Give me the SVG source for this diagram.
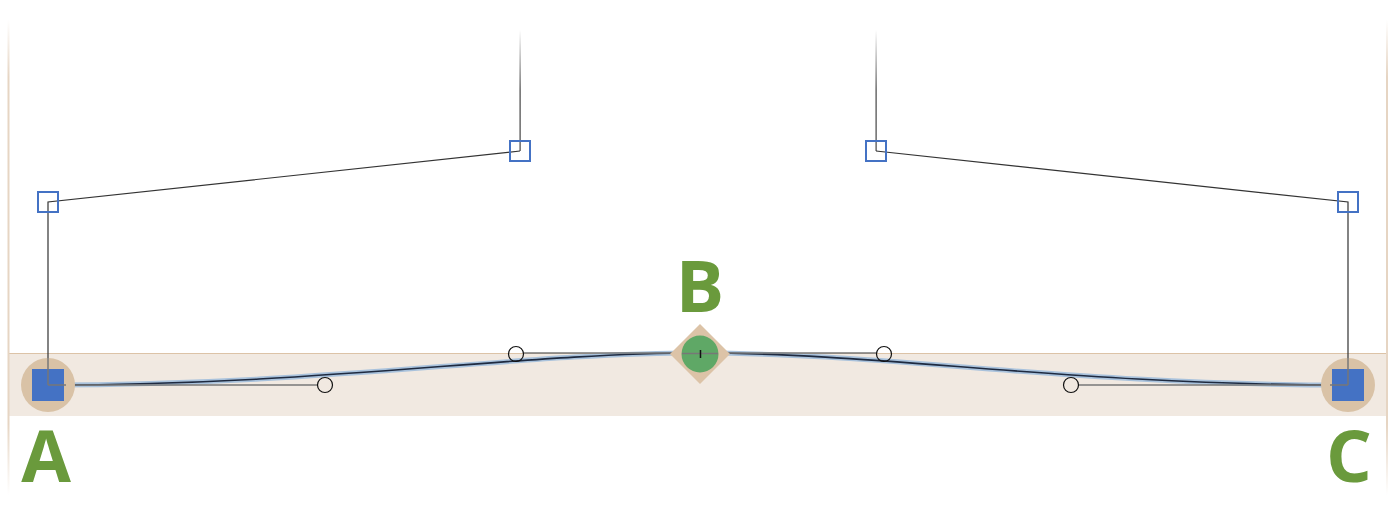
<svg xmlns="http://www.w3.org/2000/svg" width="1396" height="521" viewBox="0 0 1396 521">
<defs>
<linearGradient id="vfade" x1="0" y1="0" x2="0" y2="1">
<stop offset="0" stop-color="#444" stop-opacity="0"/>
<stop offset="0.5" stop-color="#444" stop-opacity="1"/>
<stop offset="1" stop-color="#444" stop-opacity="1"/>
</linearGradient>
<linearGradient id="edge" x1="0" y1="0" x2="0" y2="1">
<stop offset="0" stop-color="#e6d5c3" stop-opacity="0"/>
<stop offset="0.12" stop-color="#e6d5c3" stop-opacity="1"/>
<stop offset="0.85" stop-color="#e6d5c3" stop-opacity="1"/>
<stop offset="1" stop-color="#e6d5c3" stop-opacity="0"/>
</linearGradient>
<style>
.handle{fill:none;stroke:#333;stroke-width:1.2}
.hbox{fill:none;stroke:#4472c4;stroke-width:2}
.knob{fill:none;stroke:#111;stroke-width:1.2}
.tan{stroke:#777;stroke-width:1.5}
.lbl{font-family:"Open Sans","Noto Sans",sans-serif;font-weight:bold;font-size:72px;fill:#6a9a3c;text-anchor:middle}
.anchor{fill:#4472c4}
.halo{fill:#d9c2a6}
</style>
</defs>
<rect width="1396" height="521" fill="#fff"/>
<g id="frame">
<rect x="8" y="353" width="1379" height="63" fill="#f1e9e1"/>
<line x1="8" y1="353.5" x2="1387" y2="353.5" stroke="#dcc3a7" stroke-width="1"/>
<rect x="7.5" y="20" width="2" height="475" fill="url(#edge)"/>
<rect x="1386" y="20" width="2" height="475" fill="url(#edge)"/>
</g>
<g id="connectors">
<rect x="519.5" y="30" width="1.2" height="121" fill="url(#vfade)"/>
<rect x="875.5" y="30" width="1.2" height="121" fill="url(#vfade)"/>
<polyline class="handle" points="48,385 48,202 520,151"/>
<polyline class="handle" points="1348,385 1348,202 876,151"/>
<path d="M48,385 C325,385 516,353 700,353 C884,353 1071,385 1348,385" fill="none" stroke="#a9c2dc" stroke-width="5"/>
<path d="M48,385 C325,385 516,353 700,353 C884,353 1071,385 1348,385" fill="none" stroke="#1e2a40" stroke-width="1.6"/>
<line class="tan" x1="48" y1="385" x2="318" y2="385"/>
<line class="tan" x1="523" y1="353" x2="877" y2="353"/>
<line class="tan" x1="1078" y1="385" x2="1348" y2="385"/>
</g>
<g id="handleA"><rect class="hbox" x="38" y="192" width="20" height="20"/></g>
<g id="handleA2"><rect class="hbox" x="510" y="141" width="20" height="20"/></g>
<g id="handleC2"><rect class="hbox" x="866" y="141" width="20" height="20"/></g>
<g id="handleC"><rect class="hbox" x="1338" y="192" width="20" height="20"/></g>
<g id="knobs">
<circle class="knob" cx="325" cy="385" r="7.5"/>
<circle class="knob" cx="516" cy="354" r="7.5"/>
<circle class="knob" cx="884" cy="354" r="7.5"/>
<circle class="knob" cx="1071" cy="385" r="7.5"/>
</g>
<g id="nodeA">
<circle class="halo" cx="48" cy="385" r="27"/>
<rect class="anchor" x="32" y="369" width="32" height="32"/>
<line class="tan" x1="48" y1="385" x2="66" y2="385"/>
<line x1="48" y1="358" x2="48" y2="385" stroke="#777" stroke-width="1.5"/>
<text class="lbl" x="46" y="482">A</text>
</g>
<g id="nodeB">
<polygon points="700,324 730,354 700,384 670,354" fill="#dcc3a7"/>
<circle cx="700" cy="354" r="18.5" fill="#5fa866"/>
<line x1="682" y1="353.5" x2="718" y2="353.5" stroke="#777" stroke-width="1.5"/>
<line x1="700.5" y1="350" x2="700.5" y2="358" stroke="#111" stroke-width="1.5"/>
<text class="lbl" x="700" y="312">B</text>
</g>
<g id="nodeC">
<circle class="halo" cx="1348" cy="385" r="27"/>
<rect class="anchor" x="1332" y="369" width="32" height="32"/>
<line class="tan" x1="1330" y1="385" x2="1348" y2="385"/>
<line x1="1348" y1="358" x2="1348" y2="385" stroke="#777" stroke-width="1.5"/>
<text class="lbl" x="1349" y="482">C</text>
</g>
</svg>
